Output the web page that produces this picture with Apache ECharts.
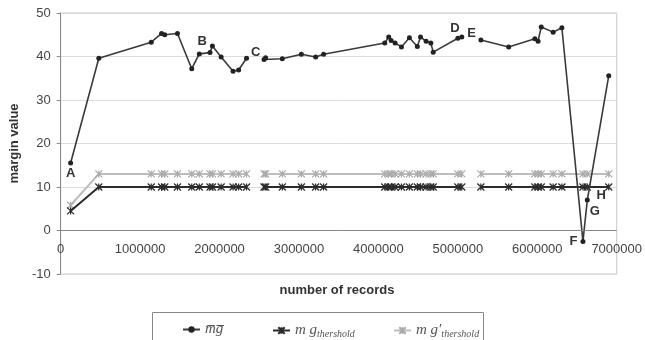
<!DOCTYPE html>
<html>
<head>
<meta charset="utf-8">
<script src="https://cdn.jsdelivr.net/npm/echarts@6/dist/echarts.min.js"></script>
<style>html,body{margin:0;padding:0;background:#fff;}#c{width:645px;height:340px;}</style>
</head>
<body>
<div id="c"></div>
<script>
// number of records (null = gap in the lines)
var records = [125000, 480000, 1140000, 1270000, 1310000, 1470000, 1650000, 1745000, 1880000, 1910000,
  2020000, 2170000, 2240000, 2340000, null,
  2560000, 2580000, 2790000, 3030000, 3210000, 3310000, 4080000, 4130000, 4160000, 4210000,
  4290000, 4390000, 4490000, 4530000, 4600000, 4660000, 4690000, 5000000, 5050000, null,
  5290000, 5640000, 5970000, 6010000, 6050000, 6200000, 6310000, 6575000, 6630000, 6900000];
var mgMean = [15.5, 39.6, 43.3, 45.3, 45.0, 45.3, 37.2, 40.6, 40.9, 42.4,
  39.9, 36.6, 36.9, 39.6, null,
  39.3, 39.7, 39.5, 40.5, 39.9, 40.5, 43.1, 44.5, 43.7, 43.1,
  42.2, 44.3, 42.3, 44.5, 43.5, 43.1, 41.0, 44.2, 44.5, null,
  43.8, 42.2, 44.1, 43.5, 46.8, 45.6, 46.6, -2.5, 7.0, 35.6];
var mgThreshold = [4.5, 10, 10, 10, 10, 10, 10, 10, 10, 10,
  10, 10, 10, 10, null,
  10, 10, 10, 10, 10, 10, 10, 10, 10, 10,
  10, 10, 10, 10, 10, 10, 10, 10, 10, null,
  10, 10, 10, 10, 10, 10, 10, 10, 10, 10];
var mgThreshold2 = [5.8, 13, 13, 13, 13, 13, 13, 13, 13, 13,
  13, 13, 13, 13, null,
  13, 13, 13, 13, 13, 13, 13, 13, 13, 13,
  13, 13, 13, 13, 13, 13, 13, 13, 13, null,
  13, 13, 13, 13, 13, 13, 13, 13, 13, 13];
// point annotations: index into records -> letter
var pointLabels = {0: 'A', 7: 'B', 13: 'C', 32: 'D', 33: 'E', 42: 'F', 43: 'G'};
var thresholdLabels = {43: 'H'};
var yTicks = {min: -10, max: 50, step: 10};
var xTicks = {min: 0, max: 7000000, step: 1000000};
var xAxisCrossAt = 0;
var xTitle = 'number of records';
var yTitle = 'margin value';

var labelPos = {
  A: {position: 'bottom', distance: 1, offset: [0, 0]},
  B: {position: 'top', distance: 3, offset: [3, 0]},
  C: {position: 'right', distance: 2, offset: [0, -6]},
  D: {position: 'top', distance: 1, offset: [-3, 0]},
  E: {position: 'right', distance: 3, offset: [0, -4]},
  F: {position: 'left', distance: 3, offset: [0, 0]},
  G: {position: 'right', distance: 0, offset: [0, 11]},
  H: {position: 'right', distance: 5, offset: [0, 8]}
};
var labelFont = {fontFamily: 'Liberation Sans, Arial', fontWeight: 'bold', fontSize: 13, color: '#333'};

function build(vals, labels) {
  return records.map(function (x, i) {
    if (x === null || vals[i] === null) return ['-', '-'];
    var item = {value: [x, vals[i]]};
    if (labels && labels[i]) {
      var L = labels[i], p = labelPos[L];
      item.label = Object.assign({show: true, formatter: L, position: p.position, distance: p.distance, offset: p.offset}, labelFont);
    }
    return item;
  });
}

var star = 'path://M0,0L10,10M10,0L0,10M5,0L5,10';
var serif = 'Liberation Serif, DejaVu Serif, serif';
var rich = {
  m: {fontFamily: serif, fontStyle: 'italic', fontSize: 15, color: '#555', lineHeight: 18},
  s: {fontFamily: serif, fontStyle: 'italic', fontSize: 10, color: '#555', lineHeight: 18, padding: [7, 0, 0, 0]}
};
var legendText = {
  mgMean: '{m|m\u0305g\u0305}',
  mgThr: '{m|m g}{s|thershold}',
  mgThr2: '{m|m g\u2032}{s|thershold}'
};
function mkLegend(name, left) {
  return {
    data: [name], left: left, top: 317, itemWidth: 17, itemHeight: 8, itemGap: 0,
    formatter: function (n) { return legendText[n]; },
    textStyle: {rich: rich}
  };
}

var chart = echarts.init(document.getElementById('c'), null, {renderer: 'canvas'});
chart.setOption({
  backgroundColor: '#fff',
  animation: false,
  grid: {left: 55, right: 26, top: 13, bottom: 66, show: true, borderColor: '#c8c8c8', borderWidth: 1},
  xAxis: {
    type: 'value', min: xTicks.min, max: xTicks.max, interval: xTicks.step, position: 'bottom',
    axisLine: {show: false, onZero: false},
    axisTick: {show: false},
    axisLabel: {margin: -31, fontFamily: 'Liberation Sans, Arial', fontSize: 13, color: '#444', formatter: function (v) { return String(v); }},
    splitLine: {show: false}
  },
  yAxis: {
    type: 'value', min: yTicks.min, max: yTicks.max, interval: yTicks.step,
    name: yTitle, nameLocation: 'middle', nameGap: 36,
    nameTextStyle: {fontFamily: 'Liberation Sans, Arial', fontWeight: 'bold', fontSize: 13, color: '#333'},
    axisLine: {show: true, onZero: false, lineStyle: {color: '#888', width: 1}},
    axisTick: {show: true, inside: false, length: 4, lineStyle: {color: '#888'}},
    axisLabel: {margin: 10, fontFamily: 'Liberation Sans, Arial', fontSize: 13, color: '#444'},
    splitLine: {show: true, lineStyle: {color: '#dcdcdc', width: 1}}
  },
  legend: [mkLegend('mgMean', 177), mkLegend('mgThr', 267), mkLegend('mgThr2', 388)],
  graphic: [
    {type: 'rect', shape: {x: 152.5, y: 312.5, width: 331, height: 40}, style: {fill: 'none', stroke: '#888', lineWidth: 1}, silent: true},
    {type: 'text', x: 337, y: 290, style: {text: xTitle, align: 'center', verticalAlign: 'middle', font: 'bold 13px "Liberation Sans", Arial', fill: '#333'}, silent: true}
  ],
  series: [
    {
      name: 'mgThr2', type: 'line', data: build(mgThreshold2), connectNulls: false,
      symbol: star, symbolSize: 7, showAllSymbol: true,
      lineStyle: {color: '#bdbdbd', width: 2},
      itemStyle: {color: '#aaa', borderColor: '#aaa', borderWidth: 1.2},
      markLine: {silent: true, symbol: 'none', label: {show: false}, animation: false,
        lineStyle: {color: '#888', width: 1, type: 'solid'}, data: [{yAxis: xAxisCrossAt}]},
      z: 2
    },
    {
      name: 'mgThr', type: 'line', data: build(mgThreshold, thresholdLabels), connectNulls: false,
      symbol: star, symbolSize: 7, showAllSymbol: true,
      lineStyle: {color: '#2b2b2b', width: 2},
      itemStyle: {color: '#2b2b2b', borderColor: '#2b2b2b', borderWidth: 1.2},
      z: 3
    },
    {
      name: 'mgMean', type: 'line', data: build(mgMean, pointLabels), connectNulls: false,
      symbol: 'circle', symbolSize: 5, showAllSymbol: true,
      lineStyle: {color: '#3a3a3a', width: 1.6},
      itemStyle: {color: '#222', borderWidth: 0},
      z: 4
    }
  ]
});
</script>
</body>
</html>
